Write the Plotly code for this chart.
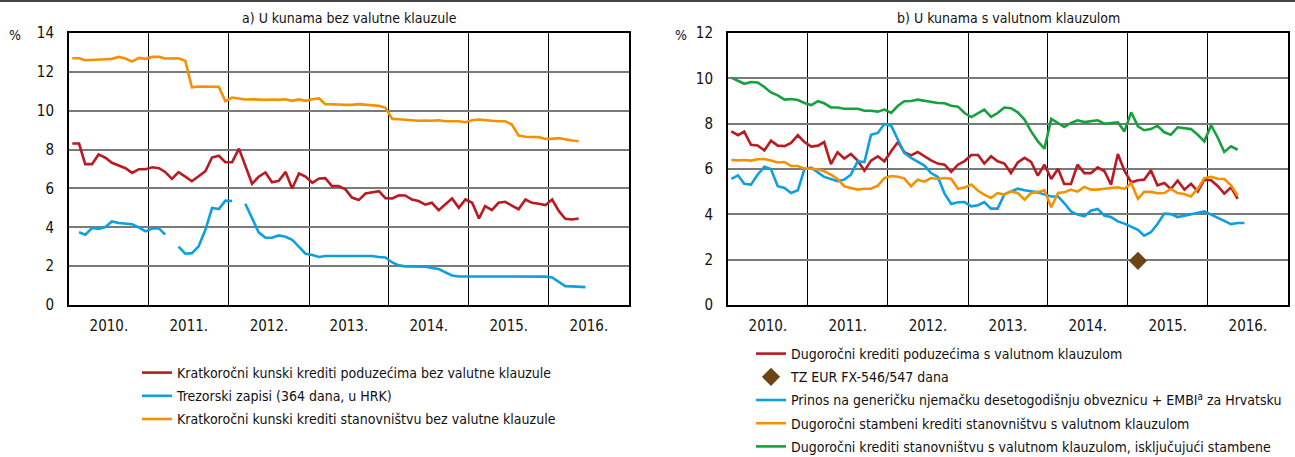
import pandas as pd
import plotly.graph_objects as go

# ---------------- data (monthly, Jan 2010 onwards) ----------------
months = (pd.date_range("2010-01-01", periods=78, freq="MS") + pd.Timedelta(days=15)).strftime("%Y-%m-%d").tolist()

year_labels = ["2010.", "2011.", "2012.", "2013.", "2014.", "2015.", "2016."]
year_label_pos = ["2010-07-02", "2011-07-02", "2012-07-02", "2013-07-02", "2014-07-02", "2015-07-02", "2016-07-02"]
year_bounds = ["2011-01-01", "2012-01-01", "2013-01-01", "2014-01-01", "2015-01-01", "2016-01-01"]

# Panel a)
kratko_poduzeca = [
    8.31, 8.31, 7.25, 7.25, 7.75, 7.58, 7.32, 7.18, 7.04, 6.80, 6.99, 6.99,
    7.09, 7.04, 6.85, 6.49, 6.84, 6.61, 6.37, 6.63, 6.89, 7.59, 7.68, 7.35,
    7.35, 8.05, 7.15, 6.24, 6.60, 6.82, 6.32, 6.39, 6.85, 6.00, 6.77, 6.61,
    6.29, 6.51, 6.53, 6.12, 6.12, 5.95, 5.53, 5.40, 5.74, 5.79, 5.86, 5.50,
    5.48, 5.65, 5.64, 5.43, 5.35, 5.17, 5.26, 4.88, 5.17, 5.48, 5.00, 5.43,
    5.26, 4.45, 5.09, 4.88, 5.26, 5.31, 5.12, 4.93, 5.43, 5.26, 5.21, 5.14,
    5.43, 4.83, 4.44, 4.40, 4.45]
trezorski = [
    None, 3.74, 3.62, 3.96, 3.91, 4.01, 4.30, 4.22, 4.18, 4.16, 3.99, 3.79,
    3.94, 3.94, 3.62, None, 3.00, 2.64, 2.67, 3.02, 3.87, 4.99, 4.94, 5.37,
    5.35, None, 5.21, 4.47, 3.74, 3.46, 3.46, 3.58, 3.51, 3.36, 3.02, 2.64,
    2.57, 2.47, 2.52, 2.52, 2.52, 2.52, 2.52, 2.52, 2.52, 2.52, 2.47, 2.45,
    2.19, 2.04, 1.99, 1.99, 1.99, 1.97, 1.90, 1.85, 1.68, 1.52, 1.47, 1.47,
    1.47, 1.47, 1.47, 1.47, 1.47, 1.47, 1.47, 1.47, 1.47, 1.47, 1.47, 1.46,
    1.42, 1.18, 0.97, 0.96, 0.94, 0.92]
kratko_stanovnistvo = [
    12.70, 12.70, 12.60, 12.63, 12.63, 12.65, 12.67, 12.77, 12.69, 12.53, 12.72, 12.67,
    12.77, 12.77, 12.69, 12.69, 12.70, 12.57, 11.21, 11.25, 11.25, 11.23, 11.23, 10.49,
    10.68, 10.63, 10.58, 10.59, 10.56, 10.56, 10.58, 10.56, 10.59, 10.51, 10.58, 10.51,
    10.59, 10.63, 10.34, 10.34, 10.32, 10.30, 10.30, 10.34, 10.30, 10.28, 10.25, 10.15,
    9.58, 9.56, 9.55, 9.51, 9.48, 9.50, 9.48, 9.51, 9.46, 9.46, 9.46, 9.41,
    9.51, 9.55, 9.50, 9.48, 9.46, 9.46, 9.29, 8.72, 8.66, 8.66, 8.64, 8.55,
    8.55, 8.59, 8.52, 8.47, 8.43]

# Panel b)
dugo_poduzeca = [
    7.66, 7.49, 7.65, 7.07, 7.04, 6.82, 7.25, 7.03, 7.01, 7.15, 7.49, 7.19,
    6.99, 7.03, 7.19, 6.22, 6.74, 6.46, 6.66, 6.37, 5.93, 6.37, 6.56, 6.34,
    6.78, 7.19, 6.74, 6.60, 6.75, 6.56, 6.38, 6.24, 6.19, 5.87, 6.19, 6.35,
    6.62, 6.62, 6.24, 6.56, 6.34, 6.24, 5.82, 6.29, 6.49, 6.31, 5.71, 6.19,
    5.56, 6.01, 5.34, 5.34, 6.19, 5.82, 5.82, 6.07, 5.90, 5.31, 6.66, 5.93,
    5.41, 5.50, 5.53, 5.94, 5.28, 5.38, 5.12, 5.49, 5.09, 5.35, 5.01, 5.53,
    5.50, 5.24, 4.91, 5.19, 4.68]
tz_eur_dates = ["2015-02-16"]
tz_eur = [1.95]
prinos_embi = [
    5.56, 5.72, 5.35, 5.31, 5.75, 6.10, 6.00, 5.24, 5.16, 4.94, 5.06, 6.00,
    6.06, 5.85, 5.65, 5.56, 5.46, 5.53, 5.75, 6.34, 6.31, 7.51, 7.59, 7.99,
    7.91, 7.29, 6.71, 6.49, 6.32, 6.15, 5.82, 5.65, 4.91, 4.46, 4.53, 4.54,
    4.35, 4.40, 4.54, 4.25, 4.25, 4.89, 5.01, 5.13, 5.06, 5.00, 4.97, 4.87,
    4.79, 4.79, 4.50, 4.13, 3.99, 3.91, 4.16, 4.24, 3.94, 3.88, 3.69, 3.59,
    3.47, 3.32, 3.06, 3.21, 3.57, 4.03, 4.01, 3.88, 3.94, 4.01, 4.09, 4.13,
    3.99, 3.84, 3.69, 3.57, 3.62, 3.62]
stambeni = [
    6.40, 6.38, 6.40, 6.37, 6.43, 6.44, 6.37, 6.29, 6.31, 6.13, 6.13, 6.01,
    6.01, 5.99, 5.90, 5.75, 5.56, 5.24, 5.16, 5.09, 5.13, 5.13, 5.26, 5.60,
    5.69, 5.66, 5.59, 5.24, 5.53, 5.44, 5.60, 5.56, 5.60, 5.57, 5.13, 5.18,
    5.31, 5.04, 4.87, 4.72, 4.94, 4.87, 5.01, 4.94, 4.65, 4.94, 4.99, 5.06,
    4.31, 4.94, 4.97, 5.09, 5.00, 5.21, 5.09, 5.09, 5.13, 5.15, 5.19, 5.12,
    5.38, 4.68, 4.99, 4.99, 4.93, 4.94, 5.12, 4.94, 4.90, 4.79, 5.13, 5.60,
    5.65, 5.57, 5.56, 5.28, 4.82]
dugo_stanovnistvo_bez_stamb = [
    10.03, 9.90, 9.76, 9.84, 9.82, 9.62, 9.38, 9.25, 9.06, 9.09, 9.04, 8.91,
    8.82, 8.99, 8.90, 8.72, 8.71, 8.66, 8.65, 8.66, 8.57, 8.57, 8.53, 8.62,
    8.47, 8.79, 8.99, 9.00, 9.06, 9.00, 8.96, 8.91, 8.90, 8.79, 8.75, 8.47,
    8.29, 8.47, 8.62, 8.30, 8.47, 8.71, 8.68, 8.50, 8.18, 7.66, 7.22, 6.90,
    8.21, 8.03, 7.85, 8.03, 8.15, 8.07, 8.10, 8.15, 8.00, 8.03, 8.06, 7.66,
    8.50, 7.88, 7.71, 7.76, 7.91, 7.62, 7.51, 7.84, 7.81, 7.76, 7.51, 7.22,
    7.93, 7.37, 6.75, 7.00, 6.85]

# ---------------- styling ----------------
FONT = "DejaVu Sans Condensed, Liberation Sans Narrow, Arial Narrow, sans-serif"
RED = "#b81c22"
BLUE = "#0ea0dc"
ORANGE = "#f39200"
GREEN = "#15a13d"
BROWN = "#6b4413"
LW = 2.6

fig = go.Figure()

def add_line(x, y, name, color, xa, ya, legend, grp):
    fig.add_trace(go.Scatter(
        x=x[:len(y)], y=y, name=name, mode="lines",
        line=dict(color=color, width=LW), xaxis=xa, yaxis=ya,
        legend=legend, legendgroup=grp, connectgaps=False,
        hoverinfo="x+y"))

add_line(months, kratko_poduzeca, "Kratkoročni kunski krediti poduzećima bez valutne klauzule", RED, "x", "y", "legend", "a1")
add_line(months, trezorski, "Trezorski zapisi (364 dana, u HRK)", BLUE, "x", "y", "legend", "a2")
add_line(months, kratko_stanovnistvo, "Kratkoročni kunski krediti stanovništvu bez valutne klauzule", ORANGE, "x", "y", "legend", "a3")

add_line(months, dugo_poduzeca, "Dugoročni krediti poduzećima s valutnom klauzulom", RED, "x2", "y2", "legend2", "b1")
fig.add_trace(go.Scatter(
    x=tz_eur_dates, y=tz_eur, name="TZ EUR FX-546/547 dana", mode="markers",
    marker=dict(symbol="diamond", size=14, color=BROWN), xaxis="x2", yaxis="y2",
    legend="legend2", legendgroup="b2"))
add_line(months, prinos_embi, "Prinos na generičku njemačku desetogodišnju obveznicu + EMBI<sup>a</sup> za Hrvatsku", BLUE, "x2", "y2", "legend2", "b3")
add_line(months, stambeni, "Dugoročni stambeni krediti stanovništvu s valutnom klauzulom", ORANGE, "x2", "y2", "legend2", "b4")
add_line(months, dugo_stanovnistvo_bez_stamb, "Dugoročni krediti stanovništvu s valutnom klauzulom, isključujući stambene", GREEN, "x2", "y2", "legend2", "b5")

W, H = 1295, 457
def px(v): return v / W
def py(v): return 1 - v / H

xaxis_common = dict(
    type="date", range=["2010-01-01", "2017-01-01"],
    tickmode="array", tickvals=year_label_pos, ticktext=year_labels,
    showgrid=False, ticks="", ticklabelstandoff=6,
    showline=True, mirror=True, linecolor="black", linewidth=2,
    minor=dict(tickmode="array", tickvals=year_bounds, showgrid=True,
               gridcolor="black", gridwidth=1, ticks=""),
    tickfont=dict(family=FONT, size=15, color="#111"),
    zeroline=False, fixedrange=True,
)
yaxis_common = dict(
    tickmode="linear", tick0=0, dtick=2,
    showgrid=True, gridcolor="#7a7a7a", gridwidth=1.5,
    showline=True, mirror=True, linecolor="black", linewidth=2,
    ticks="", ticklabelstandoff=10,
    tickfont=dict(family=FONT, size=15, color="#111"),
    zeroline=False, fixedrange=True,
)

ann_font = dict(family=FONT, size=14, color="#111")

fig.update_layout(
    width=W, height=H,
    margin=dict(l=0, r=0, t=0, b=0, autoexpand=False),
    paper_bgcolor="white", plot_bgcolor="white",
    font=dict(family=FONT, size=14, color="#111"),
    showlegend=True,
    xaxis=dict(xaxis_common, domain=[px(69), px(629)], anchor="y"),
    yaxis=dict(yaxis_common, range=[0, 14], domain=[py(305), py(33)], anchor="x"),
    xaxis2=dict(xaxis_common, domain=[px(728), px(1288)], anchor="y2"),
    yaxis2=dict(yaxis_common, range=[0, 12], domain=[py(305), py(33)], anchor="x2"),
    legend=dict(x=px(137), y=py(357), xanchor="left", yanchor="top",
                font=ann_font, tracegroupgap=2, bgcolor="rgba(0,0,0,0)", itemwidth=30),
    legend2=dict(x=px(751), y=py(338), xanchor="left", yanchor="top",
                 font=ann_font, tracegroupgap=2, bgcolor="rgba(0,0,0,0)", itemwidth=30),
    annotations=[
        dict(text="a) U kunama bez valutne klauzule", x=px(349), y=py(18), xref="paper", yref="paper",
             xanchor="center", yanchor="middle", showarrow=False, font=ann_font),
        dict(text="b) U kunama s valutnom klauzulom", x=px(1008), y=py(18), xref="paper", yref="paper",
             xanchor="center", yanchor="middle", showarrow=False, font=ann_font),
        dict(text="%", x=px(15), y=py(35), xref="paper", yref="paper",
             xanchor="center", yanchor="middle", showarrow=False, font=ann_font),
        dict(text="%", x=px(681), y=py(35), xref="paper", yref="paper",
             xanchor="center", yanchor="middle", showarrow=False, font=ann_font),
    ],
    shapes=[
        dict(type="line", xref="paper", yref="paper", x0=0, x1=1, y0=py(1), y1=py(1),
             line=dict(color="#444", width=2)),
    ],
)

fig.write_html("out.html", config={"displayModeBar": False},
               post_script="document.body.style.margin='0';document.body.style.padding='0';")
